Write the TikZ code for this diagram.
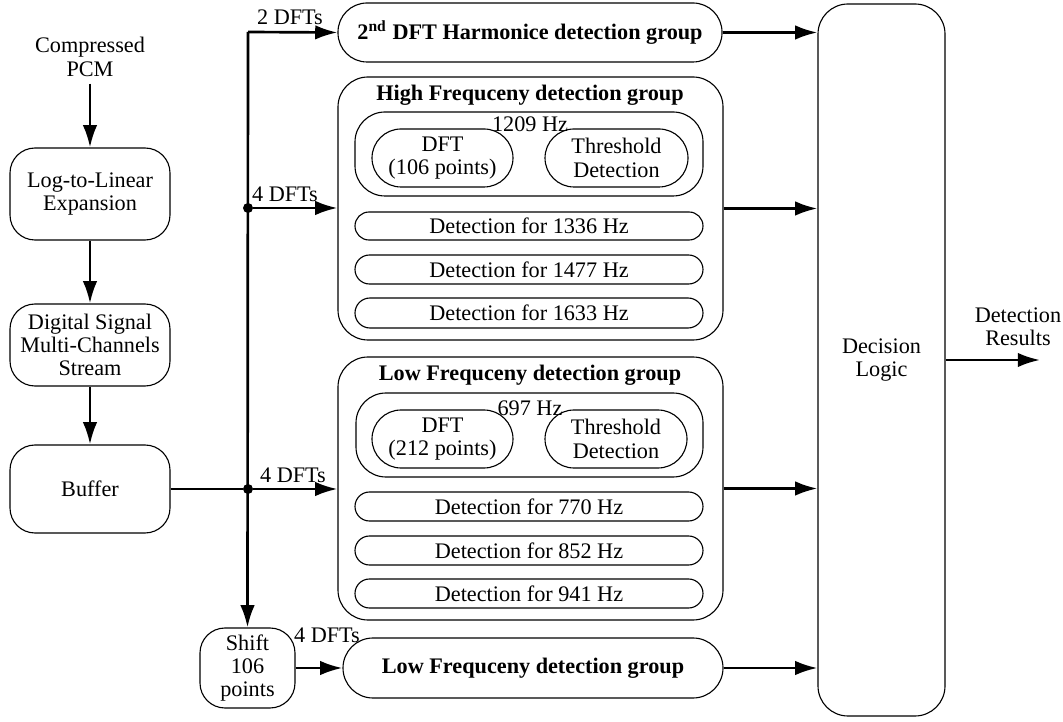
\documentclass[tikz,border=0pt]{standalone}
\usepackage{fontspec}
\setmainfont{Liberation Serif}
\usetikzlibrary{arrows.meta}
\newcommand\rb[8]{\node[#8, minimum width={(#4-#2)*0.45pt}, minimum height={(#5-#3)*0.45pt}, rounded corners={#6*0.45pt}] (#1) at ({(#2+#4)/2},{(#3+#5)/2}) {#7};}
\begin{document}
\begin{tikzpicture}[x=0.45pt,y=-0.45pt, font=\fontsize{10}{10.5}\selectfont,
 box/.style={draw, line width=0.5pt, inner sep=0pt, align=center},
 arr/.style={line width=1.2pt, -{Latex[length=10pt,width=6.5pt]}},
 ln/.style={line width=1.2pt},
 lbl/.style={inner sep=0pt, align=center},
 dot/.style={circle, fill, inner sep=0pt, minimum size=4.5pt}]
\useasboundingbox (0,0) rectangle (1063,722);
% left column
\node[lbl] (pcm) at (90,57) {Compressed\\PCM};
\rb{log}{10}{148}{170}{240}{25}{Log-to-Linear\\Expansion}{box}
\rb{dsp}{10}{304}{170}{386}{25}{Digital Signal\\Multi-Channels\\Stream}{box}
\rb{buf}{10}{445}{170}{533}{25}{Buffer}{box}
\rb{shift}{200}{628}{295}{708}{25}{Shift\\106\\points}{box}
% harmonic group
\rb{harm}{338}{3}{722}{62}{29}{\textbf{2\textsuperscript{nd} DFT Harmonice detection group}}{box}
% high frequency group
\rb{hf}{338}{77}{723}{340}{30}{}{box}
\node[lbl] (hft) at (530,95) {\textbf{High Frequceny detection group}};
\rb{hfin}{355}{112}{703}{196}{30}{}{box}
\node[lbl] (hfhz) at (530,124) {1209 Hz};
\rb{hfdft}{372}{129}{513}{187}{29}{DFT\\(106 points)}{box}
\rb{hfthr}{545}{129}{688}{187}{29}{Threshold\\Detection}{box}
\rb{hf1}{355}{212}{703}{240}{14}{Detection for 1336 Hz}{box}
\rb{hf2}{355}{255}{703}{284}{14.5}{Detection for 1477 Hz}{box}
\rb{hf3}{355}{298}{703}{328}{15}{Detection for 1633 Hz}{box}
% low frequency group
\rb{lf}{338}{357}{723}{620}{30}{}{box}
\node[lbl] (lft) at (530,375) {\textbf{Low Frequceny detection group}};
\rb{lfin}{356}{393}{703}{477}{30}{}{box}
\node[lbl] (lfhz) at (530,408) {697 Hz};
\rb{lfdft}{372}{410}{513}{468}{29}{DFT\\(212 points)}{box}
\rb{lfthr}{545}{410}{687}{468}{29}{Threshold\\Detection}{box}
\rb{lf1}{355}{492}{703}{521}{14.5}{Detection for 770 Hz}{box}
\rb{lf2}{355}{536}{703}{565}{14.5}{Detection for 852 Hz}{box}
\rb{lf3}{355}{579}{703}{608}{14.5}{Detection for 941 Hz}{box}
% shifted low frequency group
\rb{lfb}{343}{638}{723}{698}{30}{\textbf{Low Frequceny detection group}}{box}
% decision
\rb{dec}{818}{4}{945}{716}{30}{Decision\\Logic}{box}
\node[lbl] (restxt) at (1018,327) {Detection\\Results};
\coordinate (res) at (1040,363);
% connectors
\coordinate (jtop) at (248,32);
\node[dot] (j1) at (248,208) {};
\node[dot] (j2) at (248,489) {};
\draw[arr] ([yshift=-3pt]pcm.south) -- (log.north);
\draw[arr] (log) -- (dsp);
\draw[arr] (dsp) -- (buf);
\draw[ln] (buf.east) -- (j2);
\draw[arr] (jtop) -- (shift.north);
\draw[arr] (jtop) -- (harm.west);
\draw[arr] (j1) -- (j1 -| hf.west);
\draw[arr] (j2) -- (j2 -| lf.west);
\draw[arr] (shift) -- (lfb);
\draw[arr] (harm.east) -- (harm.east -| dec.west);
\draw[arr] (hf.east) -- (hf.east -| dec.west);
\draw[arr] (lf.east) -- (lf.east -| dec.west);
\draw[arr] (lfb.east) -- (lfb.east -| dec.west);
\draw[arr] (dec.east) -- (res |- dec.east);
% labels
\node[lbl] (l1) at (290,17) {2 DFTs};
\node[lbl] (l2) at (285,194) {4 DFTs};
\node[lbl] (l3) at (293,475) {4 DFTs};
\node[lbl] (l4) at (327,635) {4 DFTs};
\end{tikzpicture}
\end{document}
